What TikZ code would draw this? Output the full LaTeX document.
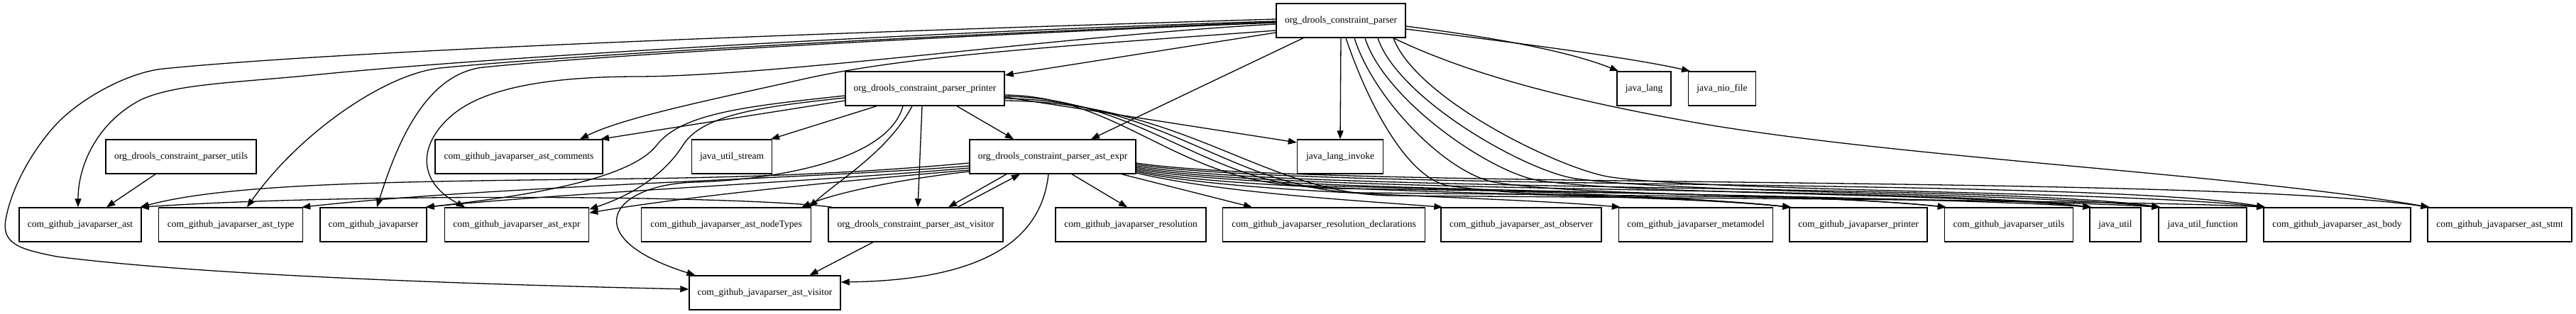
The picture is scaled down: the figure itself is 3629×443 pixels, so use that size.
\documentclass[tikz,border=0pt]{standalone}
\usepackage{fontspec}
\setmainfont{Liberation Serif}
\usetikzlibrary{arrows.meta}
\begin{document}
\begin{tikzpicture}[x=1pt,y=-1pt,
  box/.style={draw, line width=1.4pt, rectangle, minimum height=48pt, inner sep=0pt,
    font=\fontsize{13.5pt}{16pt}\selectfont},
  edge/.style={line width=1.3pt, -{Triangle[length=12pt,width=9pt]}}]
\useasboundingbox (0,0) rectangle (3629,443);
% row 0
\node[box, minimum width=182pt] (P) at (1889,29) {org\_drools\_constraint\_parser};
% row 1
\node[box, minimum width=224pt] (PR) at (1303,125) {org\_drools\_constraint\_parser\_printer};
\node[box, minimum width=76pt] (jlang) at (2316,125) {java\_lang};
\node[box, minimum width=95pt] (jnio) at (2426,125) {java\_nio\_file};
% row 2
\node[box, minimum width=212pt] (PU) at (255,221) {org\_drools\_constraint\_parser\_utils};
\node[box, minimum width=236pt] (comments) at (731,221) {com\_github\_javaparser\_ast\_comments};
\node[box, minimum width=113pt] (jstream) at (1031,221) {java\_util\_stream};
\node[box, minimum width=234pt] (AE) at (1483,221) {org\_drools\_constraint\_parser\_ast\_expr};
\node[box, minimum width=121pt] (jinvoke) at (1888,221) {java\_lang\_invoke};
% row 3
\node[box, minimum width=172pt] (ast) at (113,317) {com\_github\_javaparser\_ast};
\node[box, minimum width=203pt] (type) at (325,317) {com\_github\_javaparser\_ast\_type};
\node[box, minimum width=150pt] (jp) at (526,317) {com\_github\_javaparser};
\node[box, minimum width=203pt] (expr) at (728,317) {com\_github\_javaparser\_ast\_expr};
\node[box, minimum width=239pt] (nodeTypes) at (1023,317) {com\_github\_javaparser\_ast\_nodeTypes};
\node[box, minimum width=246pt] (OV) at (1290,317) {org\_drools\_constraint\_parser\_ast\_visitor};
\node[box, minimum width=212pt] (res) at (1593,317) {com\_github\_javaparser\_resolution};
\node[box, minimum width=285pt] (resdecl) at (1865,317) {com\_github\_javaparser\_resolution\_declarations};
\node[box, minimum width=226pt] (obs) at (2143,317) {com\_github\_javaparser\_ast\_observer};
\node[box, minimum width=217pt] (meta) at (2389,317) {com\_github\_javaparser\_metamodel};
\node[box, minimum width=194pt] (cprinter) at (2618,317) {com\_github\_javaparser\_printer};
\node[box, minimum width=181pt] (cutils) at (2830,317) {com\_github\_javaparser\_utils};
\node[box, minimum width=72pt] (jutil) at (2980,317) {java\_util};
\node[box, minimum width=124pt] (jfunc) at (3103,317) {java\_util\_function};
\node[box, minimum width=207pt] (body) at (3292.5,317) {com\_github\_javaparser\_ast\_body};
\node[box, minimum width=203pt] (stmt) at (3521.5,317) {com\_github\_javaparser\_ast\_stmt};
% row 4
\node[box, minimum width=213pt] (AV) at (1077.5,413) {com\_github\_javaparser\_ast\_visitor};

% ---- edges from org_drools_constraint_parser
\draw[edge] ([yshift=2pt]P.west) .. controls (1200,45) and (500,70) .. (230,97)
  .. controls (180,102) and (110,140) .. (75,180) .. controls (40,220) and (15,270) .. (8,310)
  .. controls (2,345) and (30,352) .. (80,362) .. controls (300,390) and (700,402) .. ([yshift=5pt]AV.west);
\draw[edge] ([yshift=-1pt]P.west) .. controls (1300,45) and (700,80) .. (450,105)
  .. controls (330,117) and (250,118) .. (200,140) .. controls (140,170) and (110,230) .. ([xshift=-3pt]ast.north);
\draw[edge] ([yshift=-2pt]P.west) .. controls (1300,50) and (800,78) .. (620,96)
  .. controls (540,105) and (420,190) .. ([xshift=23pt]type.north);
\draw[edge] ([yshift=-3pt]P.west) .. controls (1300,52) and (850,78) .. (680,95)
  .. controls (600,105) and (560,200) .. ([xshift=5pt]jp.north);
\draw[edge] ([yshift=-5pt]P.west) .. controls (1500,50) and (1100,107) .. (900,108)
  .. controls (790,108) and (690,120) .. (640,160) .. controls (590,200) and (585,255) .. ([xshift=-73pt]expr.north);
\draw[edge] ([yshift=-14pt]P.west) .. controls (1500,65) and (1280,78) .. (1130,112)
  .. controls (1010,139) and (880,165) .. ([xshift=86pt]comments.north);
\draw[edge] ([yshift=-17pt]P.west) -- ([yshift=19pt]PR.east);
\draw[edge] ([xshift=-53pt]P.south) -- ([xshift=54pt]AE.north);
\draw[edge] (P.south) -- (jinvoke.north);
\draw[edge] ([yshift=-8pt]P.east) .. controls (2100,52) and (2210,72) .. ([xshift=-36pt]jlang.north);
\draw[edge] ([yshift=-12pt]P.east) .. controls (2150,62) and (2300,82) .. ([xshift=-45pt]jnio.north);
\draw[edge] ([xshift=74pt]P.south) .. controls (2080,110) and (2230,145) .. (2400,175)
  .. controls (2700,225) and (3150,245) .. ([xshift=-99pt]stmt.north);
\draw[edge] ([xshift=7pt]P.south) .. controls (1925,140) and (1980,250) .. (2040,262)
  .. controls (2180,282) and (2325,272) .. ([xshift=3pt]cprinter.north west);
\draw[edge] ([xshift=19pt]P.south) .. controls (1935,140) and (2040,248) .. (2110,258)
  .. controls (2250,278) and (2542,272) .. ([xshift=3pt]cutils.north west);
\draw[edge] ([xshift=34pt]P.south) .. controls (1950,140) and (2100,245) .. (2170,255)
  .. controls (2310,275) and (2747,272) .. ([xshift=3pt]jutil.north west);
\draw[edge] ([xshift=52pt]P.south) .. controls (1970,140) and (2150,242) .. (2220,252)
  .. controls (2360,272) and (2844,272) .. ([xshift=3pt]jfunc.north west);
\draw[edge] ([xshift=74pt]P.south) .. controls (1995,140) and (2200,240) .. (2270,250)
  .. controls (2410,270) and (2992,270) .. ([xshift=3pt]body.north west);

% ---- edges from org_drools_constraint_parser_printer
\draw[edge] ([yshift=-17pt]PR.west) -- ([xshift=115pt]comments.north);
\draw[edge] ([xshift=-68pt]PR.south) -- ([xshift=55pt]jstream.north);
\draw[edge] ([xshift=-4pt]PR.south) -- ([xshift=3pt]OV.north);
\draw[edge] ([xshift=45pt]PR.south) -- ([xshift=-55pt]AE.north);
\draw[edge] ([yshift=-12pt]PR.east) -- ([yshift=20pt]jinvoke.west);
\draw[edge] ([yshift=-9pt]PR.east) .. controls (1580,136) and (1660,258) .. (1840,262)
  .. controls (2040,266) and (2350,275) .. ([xshift=3pt]cprinter.north west);
\draw[edge] ([yshift=-11pt]PR.east) .. controls (1610,138) and (1700,264) .. (1880,266)
  .. controls (2080,268) and (2780,280) .. ([xshift=3pt]jutil.north west);
\draw[edge] ([yshift=-14pt]PR.east) .. controls (1640,141) and (1740,270) .. (1920,272)
  .. controls (2120,274) and (2850,280) .. ([xshift=3pt]jfunc.north west);
\draw[edge] ([yshift=-17pt]PR.east) .. controls (1670,144) and (1780,274) .. (1960,276)
  .. controls (2160,278) and (3000,282) .. ([xshift=3pt]body.north west);
\draw[edge] ([yshift=-10pt]PR.west) .. controls (1050,150) and (960,160) .. (925,205)
  .. controls (890,250) and (760,275) .. ([xshift=-2pt]jp.north east);
\draw[edge] ([yshift=-13pt]PR.west) .. controls (1080,150) and (990,160) .. (962,205)
  .. controls (940,240) and (900,272) .. ([yshift=-3pt]expr.north east);
\draw[edge] ([xshift=-18pt]PR.south) .. controls (1250,215) and (1180,255) .. ([xshift=-3pt]nodeTypes.north east);
\draw[edge] ([xshift=-31pt]PR.south) .. controls (1250,230) and (1080,254) .. (980,257)
  .. controls (860,260) and (810,335) .. ([xshift=-98pt]AV.north);

% ---- edges from org_drools_constraint_parser_ast_expr
\draw[edge] ([yshift=-9pt]AE.west) .. controls (1200,245) and (1050,250) .. (900,252)
  .. controls (600,256) and (330,256) .. ([xshift=-2pt]ast.north east);
\draw[edge] ([yshift=-13pt]AE.west) .. controls (1150,252) and (700,262) .. ([xshift=-2pt]type.north east);
\draw[edge] ([yshift=-16pt]AE.west) .. controls (1150,256) and (800,272) .. ([xshift=-2pt]jp.north east);
\draw[edge] ([yshift=-19pt]AE.west) .. controls (1150,258) and (950,280) .. ([yshift=-8pt]expr.north east);
\draw[edge] ([yshift=-21pt]AE.west) .. controls (1250,255) and (1170,275) .. ([xshift=-14pt]nodeTypes.north east);
\draw[edge] ([xshift=-65pt]AE.south) -- ([xshift=46pt]OV.north);
\draw[edge] ([xshift=-6pt]AE.south) .. controls (1468,330) and (1400,395) .. ([yshift=15pt]AV.east);
\draw[edge] ([xshift=27pt]AE.south) -- ([xshift=-5pt]res.north);
\draw[edge] ([xshift=97pt]AE.south) -- ([xshift=-101pt]resdecl.north);
\draw[edge] ([yshift=-23pt]AE.east) .. controls (1720,272) and (1900,282) .. ([xshift=3pt]obs.north west);
\draw[edge] ([yshift=-21pt]AE.east) .. controls (1750,275) and (2100,276) .. ([xshift=3pt]meta.north west);
\draw[edge] ([yshift=-19pt]AE.east) .. controls (1760,275) and (2300,270) .. ([xshift=3pt]cprinter.north west);
\draw[edge] ([yshift=-17pt]AE.east) .. controls (1780,274) and (2500,266) .. ([xshift=3pt]cutils.north west);
\draw[edge] ([yshift=-15pt]AE.east) .. controls (1800,274) and (2700,262) .. ([xshift=3pt]jutil.north west);
\draw[edge] ([yshift=-13pt]AE.east) .. controls (1820,272) and (2800,258) .. ([xshift=3pt]jfunc.north west);
\draw[edge] ([yshift=-11pt]AE.east) .. controls (1850,270) and (2950,250) .. ([xshift=3pt]body.north west);
\draw[edge] ([yshift=-9pt]AE.east) .. controls (1850,268) and (3100,245) .. ([xshift=3pt]stmt.north west);

% ---- other edges
\draw[edge] ([xshift=59pt]OV.north) -- ([xshift=-46pt]AE.south);
\draw[edge] ([xshift=6pt]OV.north west) .. controls (1050,276) and (500,272) .. ([xshift=-2pt]ast.north east);
\draw[edge] ([xshift=-60pt]OV.south) -- ([xshift=63pt]AV.north);
\draw[edge] ([xshift=-36pt]PU.south) -- ([xshift=37pt]ast.north);
\end{tikzpicture}
\end{document}
